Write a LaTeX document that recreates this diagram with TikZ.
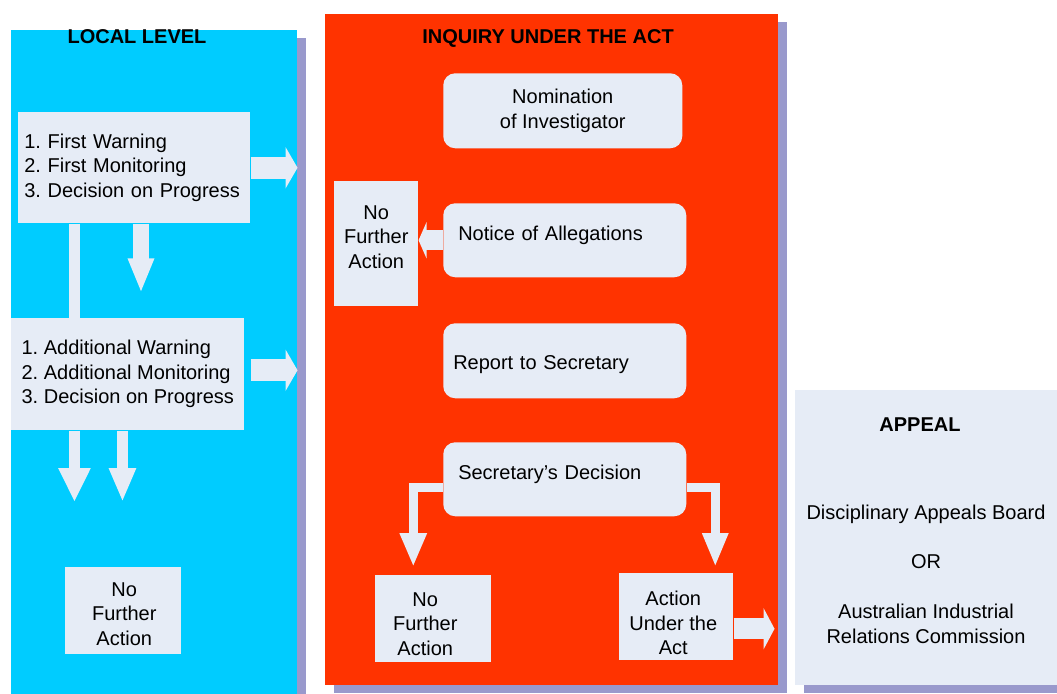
\documentclass[tikz,border=0pt]{standalone}
\usepackage{fontspec}
\setmainfont{Liberation Sans}
\usetikzlibrary{arrows.meta,shadows}
\definecolor{skyfill}{RGB}{0,204,255}
\definecolor{actfill}{RGB}{255,51,0}
\definecolor{boxfill}{RGB}{230,236,246}
\definecolor{shade}{RGB}{153,153,204}

\begin{document}
\begin{tikzpicture}[x=0.75pt,y=-0.75pt,
  font=\fontsize{15}{18.4}\selectfont,
  panel/.style={anchor=north west,inner sep=0pt,
    drop shadow={shadow xshift=6.4pt,shadow yshift=-6pt,fill=shade,opacity=1}},
  box/.style={anchor=north west,fill=boxfill,align=center,inner sep=0pt},
  rbox/.style={box,rounded corners=9pt},
  title/.style={anchor=base,font=\fontsize{15}{18.4}\selectfont\bfseries},
  oneline/.style={text height=27.75pt,text depth=27.75pt,inner ysep=0pt},
  arr/.style n args={3}{draw=boxfill,line width=#1,-{Triangle[width=#2,length=#3]}}]
\useasboundingbox (0,0) rectangle (1057,693);

% the three stages
\node[panel,fill=skyfill,minimum width=214.5pt,minimum height=502.5pt] (local) at (11,30) {};
\node[panel,fill=actfill,minimum width=339.75pt,minimum height=503.25pt] (inquiry) at (325,14) {};
\node[panel,fill=boxfill,minimum width=196.5pt,minimum height=221.25pt] (appeal) at (795,390) {};

\node[title] (localtitle)   at (137,43) {LOCAL LEVEL};
\node[title] (inquirytitle) at (548,43) {INQUIRY UNDER THE ACT};
\node[title] (appealtitle)  at (920,431) {APPEAL};

% local level
\node[box,align=left,text width=165pt,inner xsep=4.5pt,minimum height=83.25pt] (warnfirst) at (18,112)
  {1.\ First Warning\\2.\ First Monitoring\\3.\ Decision on Progress};
\node[box,align=left,minimum width=174.75pt,minimum height=84pt] (warnadd) at (11,318)
  {1.\ Additional Warning\\2.\ Additional Monitoring\\3.\ Decision on Progress};
\node[box,minimum width=87pt,minimum height=65.25pt,
  label={[align=center,shift={(0.75pt,-2.25pt)}]center:No\\Further\\Action}] (nfalocal) at (65,567) {};

% inquiry
\node[rbox,minimum width=179.25pt,minimum height=56.25pt] (nomination) at (443,73) {Nomination\\of Investigator};
\node[rbox,oneline,align=left,text width=159.75pt,inner xsep=11.25pt] (notice) at (443,203) {Notice of Allegations};
\node[rbox,align=left,text width=167.25pt,inner xsep=7.5pt,inner ysep=0pt,
  text height=34.5pt,text depth=21.75pt] (report) at (443,323) {Report to Secretary};
\node[rbox,oneline,align=left,text width=159.75pt,inner xsep=11.25pt] (decision) at (443,442) {Secretary’s Decision};
\node[box,minimum width=63pt,minimum height=93.75pt,
  label={[align=center,yshift=5.25pt]center:No\\Further\\Action}] (nfanotice) at (334,181) {};
\node[box,minimum width=87pt,minimum height=65.25pt,
  label={[align=center,shift={(-6pt,-3.75pt)}]center:No\\Further\\Action}] (nfadecision) at (375,575) {};
\node[box,minimum width=85.5pt,minimum height=65.25pt,
  label={[align=center,shift={(-2.25pt,-4.9pt)}]center:Action\\Under the\\Act}] (actionact) at (619,573) {};

% appeal
\node[align=center] (appealtext) at (926,574)
  {Disciplinary Appeals Board\\[19pt]OR\\[19pt]Australian Industrial\\Relations Commission};

% block arrows
\draw[arr={16.5pt}{30.75pt}{9pt}] (warnfirst.east) -- (warnfirst.east -| local.east);
\draw[arr={16.5pt}{30.75pt}{9pt}] ([shift={(4.5pt,3pt)}]warnadd.east) coordinate (a2) -- (a2 -| local.east);
\draw[draw=boxfill,line width=8.25pt] ([xshift=42.4pt]warnfirst.south west) coordinate (s1) -- (s1 |- warnadd.north);
\draw[arr={12pt}{18pt}{26pt},shorten >=18.75pt] ([xshift=92.25pt]warnfirst.south west) coordinate (d1) -- (d1 |- warnadd.north);
\draw[arr={8.25pt}{22.5pt}{25.5pt},shorten >=48.75pt] ([xshift=47.6pt]warnadd.south west) coordinate (d2) -- (d2 |- nfalocal.north);
\draw[arr={8.25pt}{18.75pt}{25.5pt},shorten >=48.75pt] ([xshift=83.6pt]warnadd.south west) coordinate (d3) -- (d3 |- nfalocal.north);

\draw[arr={15pt}{27pt}{6pt}] (notice.west) -- (nfanotice.east |- notice.west);
\draw[arr={6.75pt}{18.75pt}{25.5pt},shorten >=6pt] ([yshift=-6pt]decision.west) -| ([xshift=-15pt]nfadecision.north);
\draw[arr={6.75pt}{18pt}{25.5pt},shorten >=4.5pt] ([yshift=-6pt]decision.east) -| ([xshift=29.25pt]actionact.north);
\draw[arr={15.75pt}{30.75pt}{8.25pt},shorten >=3pt] ([yshift=-9pt]actionact.east) coordinate (a3) -- (a3 -| inquiry.east);
\end{tikzpicture}
\end{document}
